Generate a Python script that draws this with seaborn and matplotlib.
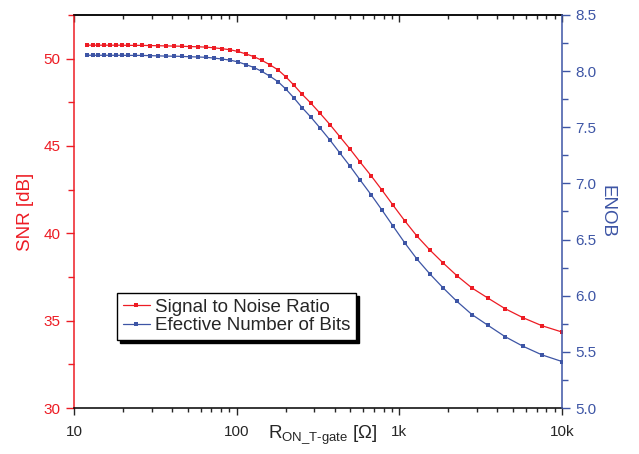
import matplotlib
matplotlib.use("Agg")
import matplotlib.pyplot as plt
import matplotlib.ticker as mticker
import seaborn as sns

# R_ON of the T-gate [ohm]
r_on = [12, 13, 14, 15.3, 16.6, 18.1, 19.7, 21.5, 23.7, 26.2,
        29.3, 32.8, 36.8, 41.2, 46.1, 51.7, 57.8, 64.8, 72.6, 81.2,
        91, 102, 114, 128, 143, 160, 180, 201, 225, 252,
        286, 325, 375, 432, 498, 573, 670, 783, 915, 1083,
        1284, 1543, 1855, 2262, 2797, 3509, 4462, 5757, 7535, 10000]

# signal to noise ratio [dB]
snr = [50.77, 50.77, 50.77, 50.77, 50.77, 50.77, 50.77, 50.76, 50.76, 50.76,
       50.75, 50.74, 50.73, 50.72, 50.71, 50.69, 50.68, 50.66, 50.62, 50.57,
       50.51, 50.41, 50.27, 50.11, 49.90, 49.65, 49.35, 48.95, 48.48, 47.97,
       47.45, 46.88, 46.22, 45.52, 44.82, 44.09, 43.30, 42.47, 41.61, 40.70,
       39.84, 39.04, 38.31, 37.57, 36.87, 36.29, 35.69, 35.17, 34.71, 34.35]

# effective number of bits
enob = [8.141, 8.141, 8.141, 8.141, 8.141, 8.141, 8.141, 8.140, 8.140, 8.140,
        8.138, 8.136, 8.134, 8.133, 8.131, 8.128, 8.126, 8.123, 8.116, 8.108,
        8.098, 8.082, 8.058, 8.032, 7.997, 7.955, 7.905, 7.839, 7.761, 7.676,
        7.590, 7.495, 7.385, 7.269, 7.153, 7.032, 6.900, 6.762, 6.620, 6.468,
        6.326, 6.193, 6.071, 5.949, 5.832, 5.736, 5.636, 5.550, 5.473, 5.414]

x_ticks = [10, 100, 1000, 10000]
x_ticklabels = ["10", "100", "1k", "10k"]

red = "#ED1C24"
blue = "#3D55A5"

sns.set_style("ticks")
plt.rcParams["font.family"] = ["Liberation Sans", "DejaVu Sans"]
plt.rcParams["mathtext.fontset"] = "custom"
plt.rcParams["mathtext.rm"] = "Liberation Sans"
plt.rcParams["mathtext.it"] = "Liberation Sans:italic"

fig = plt.figure(figsize=(6.39, 4.54), dpi=100)
ax = fig.add_axes([0.1158, 0.1013, 0.7637, 0.8657])
ax2 = ax.twinx()

sns.lineplot(x=r_on, y=snr, ax=ax, color=red, marker="s", markersize=3.2,
             markeredgewidth=0, linewidth=0.9, label="Signal to Noise Ratio")
sns.lineplot(x=r_on, y=enob, ax=ax2, color=blue, marker="s", markersize=3.2,
             markeredgewidth=0, linewidth=0.9, label="Efective Number of Bits")

ax.set_xscale("log")
ax.set_xlim(10, 10000)
ax.set_ylim(30, 52.5)
ax2.set_ylim(5.0, 8.5)

ax.xaxis.set_major_locator(mticker.FixedLocator(x_ticks))
ax.xaxis.set_major_formatter(mticker.FixedFormatter(x_ticklabels))
ax.xaxis.set_minor_locator(mticker.LogLocator(base=10, subs=range(2, 10)))
ax.xaxis.set_minor_formatter(mticker.NullFormatter())

ax.yaxis.set_major_locator(mticker.MultipleLocator(5))
ax.yaxis.set_minor_locator(mticker.MultipleLocator(2.5))
ax2.yaxis.set_major_locator(mticker.MultipleLocator(0.5))
ax2.yaxis.set_minor_locator(mticker.MultipleLocator(0.25))
ax2.yaxis.set_major_formatter(mticker.FormatStrFormatter("%.1f"))

# spines
for s in ["left", "top", "bottom"]:
    ax2.spines[s].set_visible(False)
ax.spines["right"].set_visible(False)
ax.spines["left"].set_color(red)
ax2.spines["right"].set_color(blue)
for sp in [ax.spines["left"], ax.spines["top"], ax.spines["bottom"], ax2.spines["right"]]:
    sp.set_linewidth(1.1)
ax.spines["top"].set_color("black")
ax.spines["bottom"].set_color("black")

ax.tick_params(axis="y", which="major", direction="out", length=6, width=1,
               color=red, labelcolor=red, labelsize=11)
ax.tick_params(axis="y", which="minor", direction="out", length=4, width=1, color=red)
ax2.tick_params(axis="y", which="major", direction="out", length=6, width=1,
                color=blue, labelcolor=blue, labelsize=11)
ax2.tick_params(axis="y", which="minor", direction="out", length=4, width=1, color=blue)
ax.tick_params(axis="x", which="major", direction="out", length=5, width=1,
               labelsize=11, pad=7)
ax.tick_params(axis="x", which="minor", direction="out", length=3, width=1)

# top axis with inward ticks
top = ax.secondary_xaxis("top")
top.xaxis.set_major_locator(mticker.FixedLocator(x_ticks))
top.xaxis.set_minor_locator(mticker.LogLocator(base=10, subs=range(2, 10)))
top.xaxis.set_major_formatter(mticker.NullFormatter())
top.xaxis.set_minor_formatter(mticker.NullFormatter())
top.tick_params(which="major", direction="in", length=5, width=1)
top.tick_params(which="minor", direction="in", length=3, width=1)
top.spines["top"].set_linewidth(1.1)

ax.set_ylabel("SNR [dB]", color=red, fontsize=13.5, labelpad=7)
ax2.set_ylabel("ENOB", color=blue, fontsize=13.5, rotation=270, labelpad=14)
ax.set_xlabel("R$_{\\mathrm{ON\\_T\u2010gate}}$ [\u03a9]", fontsize=13.5)
ax.xaxis.set_label_coords(0.51, -0.04)

# combined legend
h1, l1 = ax.get_legend_handles_labels()
h2, l2 = ax2.get_legend_handles_labels()
if ax.get_legend():
    ax.get_legend().remove()
if ax2.get_legend():
    ax2.get_legend().remove()
leg = ax2.legend(h1 + h2, l1 + l2, loc="upper left", bbox_to_anchor=(0.088, 0.293),
                 borderaxespad=0, fancybox=False, framealpha=1, edgecolor="black",
                 shadow={"color": "black", "alpha": 1}, fontsize=13.5,
                 handlelength=1.45, handletextpad=0.3, labelspacing=0.08,
                 borderpad=0.3)
leg.get_frame().set_linewidth(1.0)

fig.savefig("out.png", dpi=100)
